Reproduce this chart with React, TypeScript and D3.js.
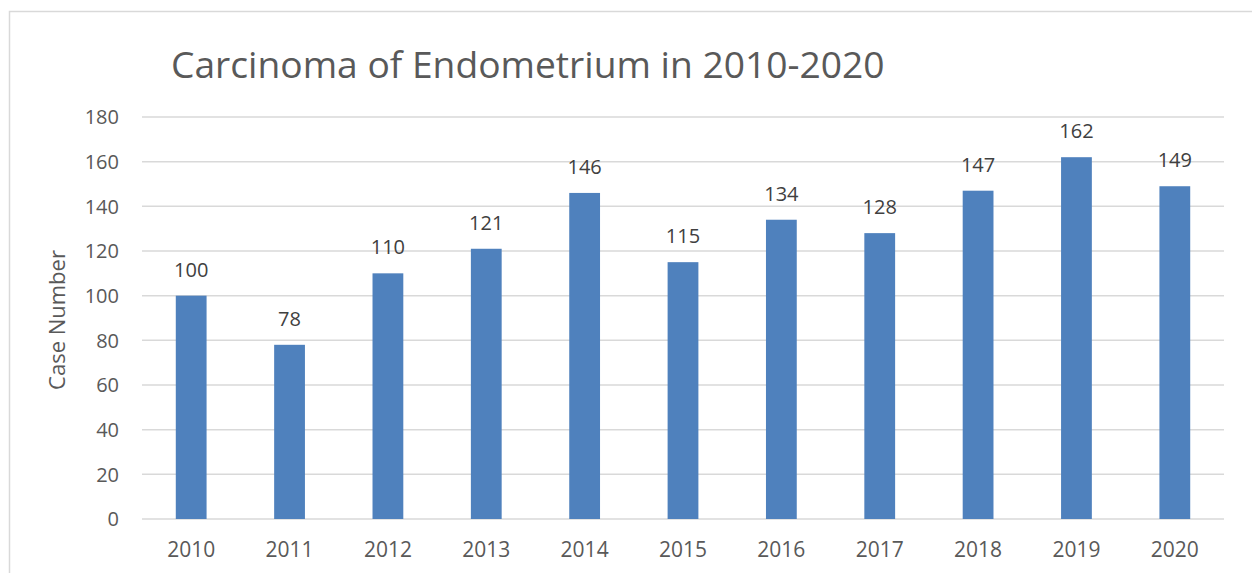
import React from "react";
import * as d3 from "d3";

const years = ["2010", "2011", "2012", "2013", "2014", "2015", "2016", "2017", "2018", "2019", "2020"];
const cases = [100, 78, 110, 121, 146, 115, 134, 128, 147, 162, 149];
const yTicks = [0, 20, 40, 60, 80, 100, 120, 140, 160, 180];
const title = "Carcinoma of Endometrium in 2010-2020";
const yTitle = "Case Number";

const W = 1252;
const H = 573;
const FONT = "'Open Sans', 'Liberation Sans', sans-serif";

export default function App() {
  const x = d3.scaleBand<string>().domain(years).range([142, 1224]).paddingInner(0.687).paddingOuter(0.3435);
  const y = d3.scaleLinear().domain([0, 180]).range([519, 117]);
  return (
    <svg width={W} height={H} style={{ position: "absolute", left: 0, top: 0, background: "#fff" }} fontFamily={FONT}>
      <rect x={9.5} y={11.5} width={1300} height={700} fill="#fff" stroke="#D9D9D9" strokeWidth={1.5} />
      <text x={171} y={78} fontSize={37.2} fill="#595959">{title}</text>
      {yTicks.map((t) => (
        <g key={t}>
          <line x1={142} x2={1224} y1={y(t)} y2={y(t)} stroke="#D9D9D9" strokeWidth={1.5} />
          <text x={119} y={y(t)} dy="0.36em" textAnchor="end" fontSize={20} fill="#595959">{t}</text>
        </g>
      ))}
      {years.map((yr, i) => (
        <g key={yr}>
          <rect x={x(yr)!} y={y(cases[i])} width={x.bandwidth()} height={y(0) - y(cases[i])} fill="#4F81BD" />
          <text x={x(yr)! + x.bandwidth() / 2} y={y(cases[i]) - 19} textAnchor="middle" fontSize={20} fill="#404040">{cases[i]}</text>
          <text x={x(yr)! + x.bandwidth() / 2} y={557} textAnchor="middle" fontSize={21} fill="#595959">{yr}</text>
        </g>
      ))}
      <text transform="translate(65,320) rotate(-90)" textAnchor="middle" fontSize={22} fill="#595959">{yTitle}</text>
    </svg>
  );
}
